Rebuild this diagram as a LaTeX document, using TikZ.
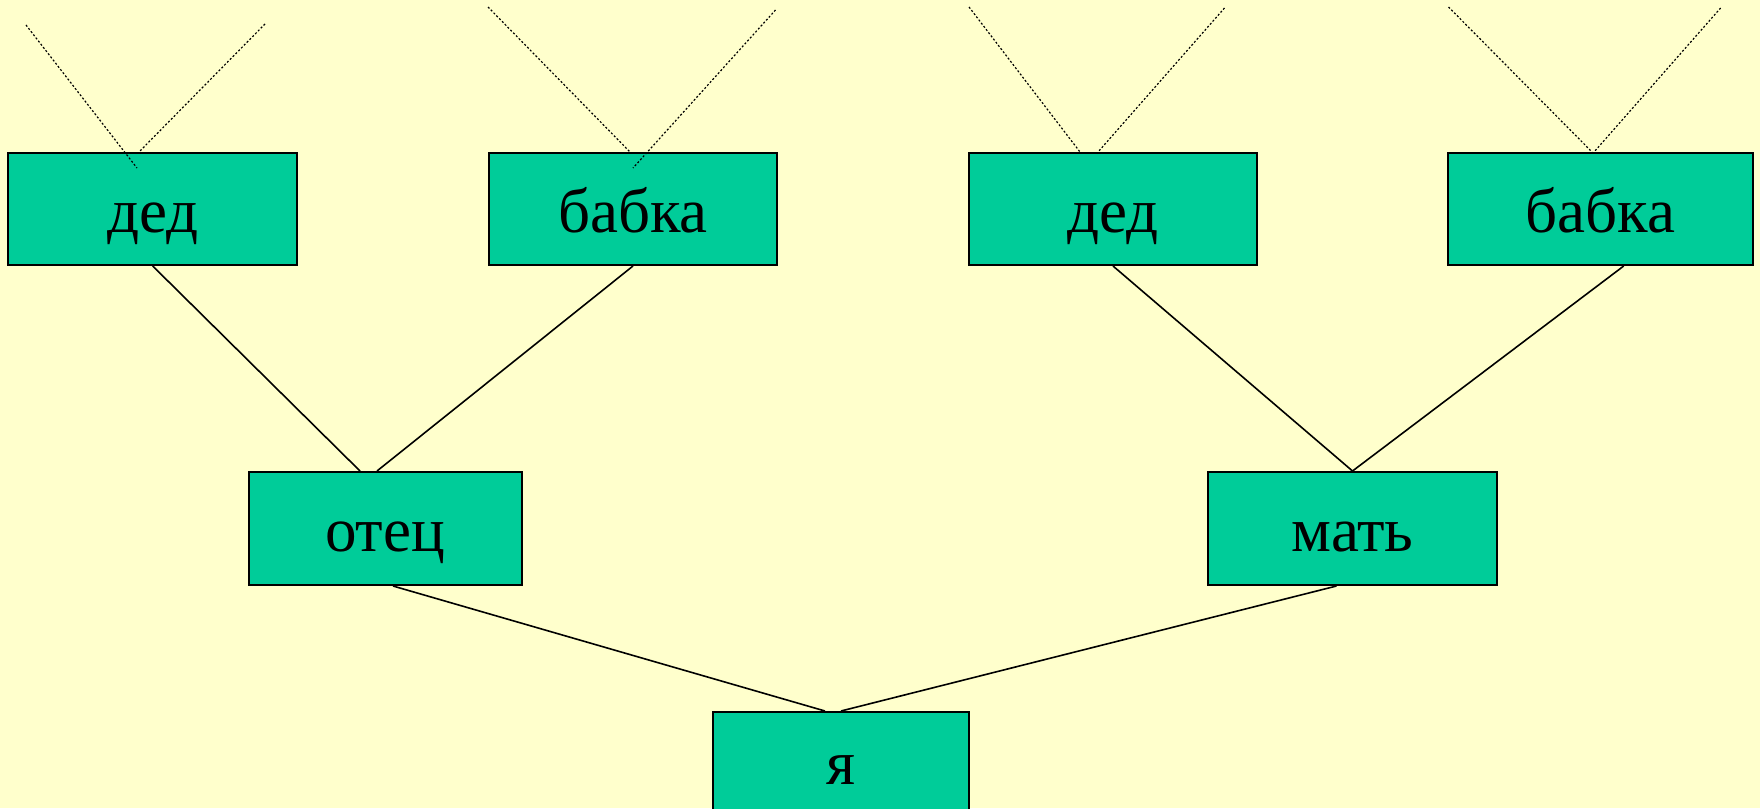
\documentclass[tikz,border=0pt]{standalone}
\usepackage{fontspec}
\setmainfont{Liberation Serif}
\definecolor{bgyellow}{HTML}{FFFFCC}
\definecolor{boxgreen}{HTML}{00CC99}
\begin{document}
\begin{tikzpicture}[x=0.5pt,y=-0.5pt,
  personbox/.style={draw=black,line width=1pt,fill=boxgreen,inner sep=0pt,
    minimum height=56pt,text height=23pt,text depth=0pt,
    font=\fontsize{31.5pt}{36pt}\selectfont},
  link/.style={draw=black,line width=0.8pt},
  ancestry/.style={draw=black,line width=0.6pt,dash pattern=on 1pt off 1pt}]
\useasboundingbox[fill=bgyellow] (0,0) rectangle (1760,808);
% boxes
\node[personbox,minimum width=144.5pt] (d1) at (152.7,209) {дед};
\node[personbox,minimum width=144pt] (b1) at (633,209) {бабка};
\node[personbox,minimum width=144pt] (d2) at (1113,209) {дед};
\node[personbox,minimum width=152.25pt] (b2) at (1600.7,209) {бабка};
\node[personbox,minimum width=136.5pt,minimum height=56.5pt] (otec) at (385,528.5) {отец};
\node[personbox,minimum width=144.5pt,minimum height=56.5pt] (mat) at (1352.5,528.5) {мать};
\node[personbox,minimum width=128pt,minimum height=49pt] (ya) at (841,761) {я};
% solid links
\draw[link] (d1.south) -- ([xshift=-12.5pt]otec.north);
\draw[link] (b1.south) -- ([xshift=-4pt]otec.north);
\draw[link] (d2.south) -- (mat.north);
\draw[link] ([xshift=11.5pt]b2.south) -- (mat.north);
\draw[link] ([xshift=4pt]otec.south) -- ([xshift=-8pt]ya.north);
\draw[link] ([xshift=-8pt]mat.south) -- (ya.north);
% dotted ancestry lines
\coordinate (d1l) at (26,25);
\coordinate (d1r) at (265,24);
\coordinate (b1l) at (488,7);
\coordinate (b1r) at (775.5,10);
\coordinate (d2l) at (969,7);
\coordinate (d2r) at (1224.5,8);
\coordinate (b2l) at (1448.5,7);
\coordinate (b2r) at (1720.6,8);
\draw[ancestry] (d1l) -- ([xshift=-7.85pt,yshift=-8pt]d1.north);
\draw[ancestry] (d1r) -- ([xshift=-6.85pt]d1.north);
\draw[ancestry] (b1l) -- ([xshift=-1.5pt]b1.north);
\draw[ancestry] (b1r) -- ([yshift=-8pt]b1.north);
\draw[ancestry] (d2l) -- ([xshift=-16.5pt]d2.north);
\draw[ancestry] (d2r) -- ([xshift=-7.5pt]d2.north);
\draw[ancestry] (b2l) -- ([xshift=-4.35pt]b2.north);
\draw[ancestry] (b2r) -- ([xshift=-3.35pt]b2.north);
\end{tikzpicture}
\end{document}
